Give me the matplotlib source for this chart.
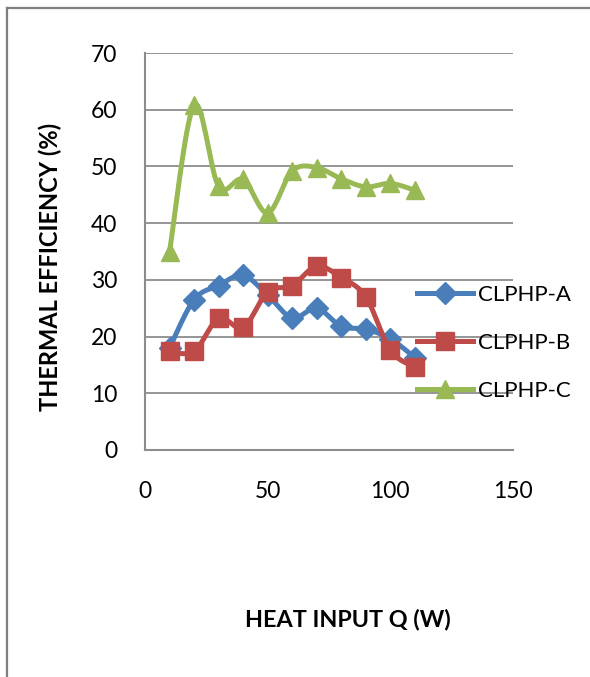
import numpy as np
import matplotlib
matplotlib.use("Agg")
import matplotlib.pyplot as plt
from matplotlib.lines import Line2D

# values
heat_input = [10, 20, 30, 40, 50, 60, 70, 80, 90, 100, 110]
clphp_a = [18.0, 26.5, 29.0, 30.8, 27.3, 23.3, 25.0, 21.8, 21.3, 19.6, 16.3]
clphp_b = [17.4, 17.4, 23.2, 21.6, 27.9, 29.0, 32.4, 30.4, 27.0, 17.6, 14.6]
clphp_c = [35.0, 60.8, 46.5, 47.7, 41.8, 49.2, 49.8, 47.8, 46.4, 47.0, 45.8]
series_names = ["CLPHP-A", "CLPHP-B", "CLPHP-C"]
x_ticks = [0, 50, 100, 150]
y_ticks = [0, 10, 20, 30, 40, 50, 60, 70]


def smooth(xs, ys, n=20):
    # Excel style smoothed line (catmull-rom as cubic bezier)
    p = np.column_stack([xs, ys]).astype(float)
    p = np.vstack([p[0], p, p[-1]])
    out = []
    t = np.linspace(0, 1, n)[:, None]
    for i in range(1, len(p) - 2):
        p0, p1, p2, p3 = p[i - 1], p[i], p[i + 1], p[i + 2]
        c1 = p1 + (p2 - p0) / 6.0
        c2 = p2 - (p3 - p1) / 6.0
        seg = ((1 - t) ** 3) * p1 + 3 * ((1 - t) ** 2) * t * c1 \
            + 3 * (1 - t) * t ** 2 * c2 + t ** 3 * p2
        out.append(seg if i == 1 else seg[1:])
    out = np.vstack(out)
    return out[:, 0], out[:, 1]


plt.rcParams["font.family"] = ["Lato", "DejaVu Sans"]

fig = plt.figure(figsize=(5.9, 6.77), dpi=100)
W, H = 590.0, 677.0
ax = fig.add_axes([145 / W, 1 - 450 / H, (513 - 145) / W, (450 - 53) / H])

# outer frame of the chart object (left and top edges are visible)
fx, fy = 7 / W, 1 - 8 / H
fig.add_artist(Line2D([fx, fx], [0, fy], transform=fig.transFigure,
                      color="#7f7f7f", lw=1.6, zorder=5))
fig.add_artist(Line2D([fx, 1.0], [fy, fy], transform=fig.transFigure,
                      color="#7f7f7f", lw=1.6, zorder=5))

styles = [("#4A7EBB", "D", 11), ("#BE4B48", "s", 13.5), ("#98B954", "^", 13.5)]
for ys, name, (col, mk, ms) in zip([clphp_a, clphp_b, clphp_c], series_names, styles):
    sx, sy = smooth(heat_input, ys)
    ax.plot(sx, sy, color=col, lw=3.6, solid_capstyle="round")
    ax.plot(heat_input, ys, ls="none", marker=mk, ms=ms, color=col, mec=col)
    ax.plot([], [], color=col, lw=3.6, marker=mk, ms=ms, mec=col, label=name)

ax.set_xlim(0, 150)
ax.set_ylim(0, 70)
ax.set_xticks(x_ticks)
ax.set_yticks(y_ticks)
ax.grid(axis="y", color="#8c8c8c", lw=1.3)
ax.set_axisbelow(True)
for s in ["top", "right"]:
    ax.spines[s].set_visible(False)
for s in ["left", "bottom"]:
    ax.spines[s].set_color("#8c8c8c")
    ax.spines[s].set_linewidth(1.5)
ax.tick_params(length=0, labelsize=16.5, pad=20)
ax.tick_params(axis="x", pad=22)

h, l = ax.get_legend_handles_labels()
ax.legend(h, l, loc="center left", bbox_to_anchor=(417 / W, 1 - 343 / H),
          bbox_transform=fig.transFigure, frameon=False, fontsize=16,
          handlelength=2.5, handletextpad=0.25, labelspacing=1.25,
          borderpad=0, borderaxespad=0, numpoints=1)

fig.text(50 / W, 1 - 267 / H, "THERMAL EFFICIENCY (%)", rotation=90,
         ha="center", va="center", fontsize=17, fontweight="bold")
fig.text(348 / W, 1 - 620 / H, "HEAT INPUT Q (W)", ha="center", va="center",
         fontsize=16.8, fontweight="bold")

fig.savefig("out.png", dpi=100)
